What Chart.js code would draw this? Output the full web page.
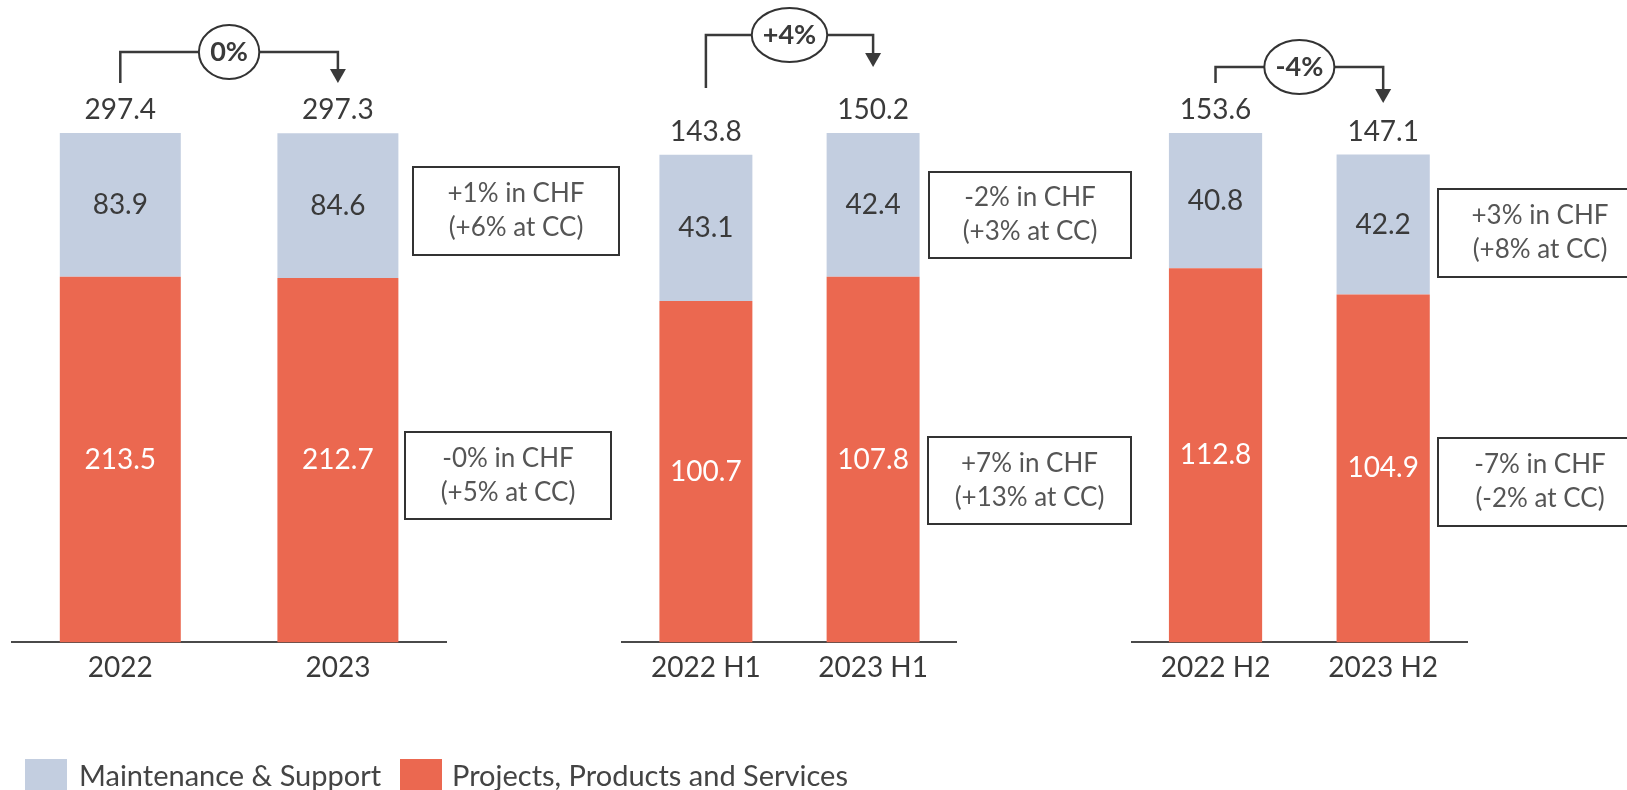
<!DOCTYPE html>
<html>
<head>
<meta charset="utf-8">
<script src="https://cdn.jsdelivr.net/npm/chart.js@4.4.0/dist/chart.umd.min.js"></script>
<style>
    body { margin: 0; width: 1627px; height: 790px; overflow: hidden; background: #fff; font-family: Lato, sans-serif; position: relative; }
    canvas { position: absolute; left: 0; top: 0; }
    .lg-box { position: absolute; top: 759px; width: 42px; height: 42px; }
    .lg-text { position: absolute; top: 759px; height: 32px; line-height: 32px; font-size: 29px; color: #444; white-space: nowrap; }
</style>
</head>
<body>
<canvas id="c0" width="1627" height="790"></canvas>
<canvas id="c1" width="1627" height="790"></canvas>
<canvas id="c2" width="1627" height="790"></canvas>
<div id="legend"></div>
<script>
    // data, CHF million
    var categories = [["2022", "2023"], ["2022 H1", "2023 H1"], ["2022 H2", "2023 H2"]];
    var maintenance = [[83.9, 84.6], [43.1, 42.4], [40.8, 42.2]];
    var projects = [[213.5, 212.7], [100.7, 107.8], [112.8, 104.9]];
    var totals = [[297.4, 297.3], [143.8, 150.2], [153.6, 147.1]];
    var growth = ["0%", "+4%", "-4%"];
    var maintChange = [["+1% in CHF", "(+6% at CC)"], ["-2% in CHF", "(+3% at CC)"], ["+3% in CHF", "(+8% at CC)"]];
    var projChange = [["-0% in CHF", "(+5% at CC)"], ["+7% in CHF", "(+13% at CC)"], ["-7% in CHF", "(-2% at CC)"]];
    var seriesNames = ["Maintenance & Support", "Projects, Products and Services"];

    var BLUE = "#C3CEE0";
    var ORANGE = "#EB6850";
    var DARK = "#3a3a3a";

    // layout of each panel (page pixels)
    var areas = [[11.5, 446.7], [622.3, 956.7], [1131.7, 1467]];
    var brackets = [
        { lineY: 52, startY: 83, tipY: 83 },
        { lineY: 35, startY: 88, tipY: 67 },
        { lineY: 67, startY: 83, tipY: 103 }
    ];
    var boxes = [
        { upper: [413, 167, 206, 88], lower: [405, 432, 206, 87] },
        { upper: [929, 172, 202, 86], lower: [928, 437, 203, 87] },
        { upper: [1438, 189, 204, 88], lower: [1438, 438, 204, 88] }
    ];

    Chart.defaults.font.family = "Lato, sans-serif";

    function text(ctx, str, x, y, font, color) {
        ctx.font = font;
        ctx.fillStyle = color;
        ctx.textAlign = "center";
        ctx.textBaseline = "middle";
        ctx.fillText(str, x, y);
    }

    function box(ctx, r, lines) {
        ctx.lineWidth = 2;
        ctx.strokeStyle = "#333";
        ctx.strokeRect(r[0], r[1], r[2], r[3]);
        var cx = r[0] + r[2] / 2, cy = r[1] + r[3] / 2;
        text(ctx, lines[0], cx, cy - 17, "26px Lato", "#555");
        text(ctx, lines[1], cx, cy + 17, "26px Lato", "#555");
    }

    var annotate = {
        id: "annotate",
        afterDatasetsDraw: function (chart, args, opts) {
            var p = opts.panel;
            var ctx = chart.ctx;
            var bars = chart.getDatasetMeta(1).data;
            var low = chart.getDatasetMeta(0).data;
            ctx.save();

            bars.forEach(function (b, i) {
                var lb = low[i];
                text(ctx, maintenance[p][i].toFixed(1), b.x, (b.y + b.base) / 2, "28px Lato", DARK);
                text(ctx, projects[p][i].toFixed(1), lb.x, (lb.y + lb.base) / 2, "28px Lato", "#fff");
                text(ctx, totals[p][i].toFixed(1), b.x, b.y - 23, "28px Lato", DARK);
            });

            // growth bracket
            var br = brackets[p];
            var x1 = bars[0].x, x2 = bars[1].x;
            ctx.strokeStyle = DARK;
            ctx.fillStyle = DARK;
            ctx.lineWidth = 2.5;
            ctx.beginPath();
            ctx.moveTo(x1, br.startY);
            ctx.lineTo(x1, br.lineY);
            ctx.lineTo(x2, br.lineY);
            ctx.lineTo(x2, br.tipY - 13);
            ctx.stroke();
            ctx.beginPath();
            ctx.moveTo(x2 - 8, br.tipY - 14);
            ctx.lineTo(x2 + 8, br.tipY - 14);
            ctx.lineTo(x2, br.tipY);
            ctx.closePath();
            ctx.fill();

            var mx = (x1 + x2) / 2;
            ctx.font = "bold 26px Lato";
            var rx = ctx.measureText(growth[p]).width / 2 + 12;
            ctx.beginPath();
            ctx.ellipse(mx, br.lineY, rx, 27, 0, 0, Math.PI * 2);
            ctx.fillStyle = "#fff";
            ctx.fill();
            ctx.lineWidth = 2;
            ctx.strokeStyle = "#333";
            ctx.stroke();
            text(ctx, growth[p], mx, br.lineY, "bold 27px Lato", DARK);

            box(ctx, boxes[p].upper, maintChange[p]);
            box(ctx, boxes[p].lower, projChange[p]);
            ctx.restore();
        }
    };

    for (var p = 0; p < 3; p++) {
        var maxTotal = Math.max.apply(null, totals[p]);
        new Chart(document.getElementById("c" + p), {
            type: "bar",
            data: {
                labels: categories[p],
                datasets: [{
                    label: seriesNames[1],
                    data: projects[p],
                    backgroundColor: ORANGE,
                    borderWidth: 0
                }, {
                    label: seriesNames[0],
                    data: maintenance[p],
                    backgroundColor: BLUE,
                    borderWidth: 0
                }]
            },
            options: {
                responsive: false,
                animation: false,
                devicePixelRatio: 1,
                layout: {
                    padding: { left: areas[p][0], right: 1627 - areas[p][1], top: 133, bottom: 96 }
                },
                datasets: { bar: { barPercentage: 0.556, categoryPercentage: 1 } },
                plugins: {
                    legend: { display: false },
                    tooltip: { enabled: false },
                    annotate: { panel: p }
                },
                scales: {
                    x: {
                        stacked: true,
                        grid: { display: false, drawTicks: false },
                        border: { display: true, color: "#4a4a4a", width: 2 },
                        ticks: { color: DARK, padding: 9, font: { size: 28 } }
                    },
                    y: {
                        stacked: true,
                        display: false,
                        min: 0,
                        max: maxTotal
                    }
                }
            },
            plugins: [annotate]
        });
    }

    // legend
    var legend = document.getElementById("legend");
    var legendX = [[25, 79], [400, 452]];
    [BLUE, ORANGE].forEach(function (c, i) {
        var sq = document.createElement("div");
        sq.className = "lg-box";
        sq.style.left = legendX[i][0] + "px";
        sq.style.background = c;
        var t = document.createElement("div");
        t.className = "lg-text";
        t.style.left = legendX[i][1] + "px";
        t.textContent = seriesNames[i];
        legend.appendChild(sq);
        legend.appendChild(t);
    });
</script>
</body>
</html>
